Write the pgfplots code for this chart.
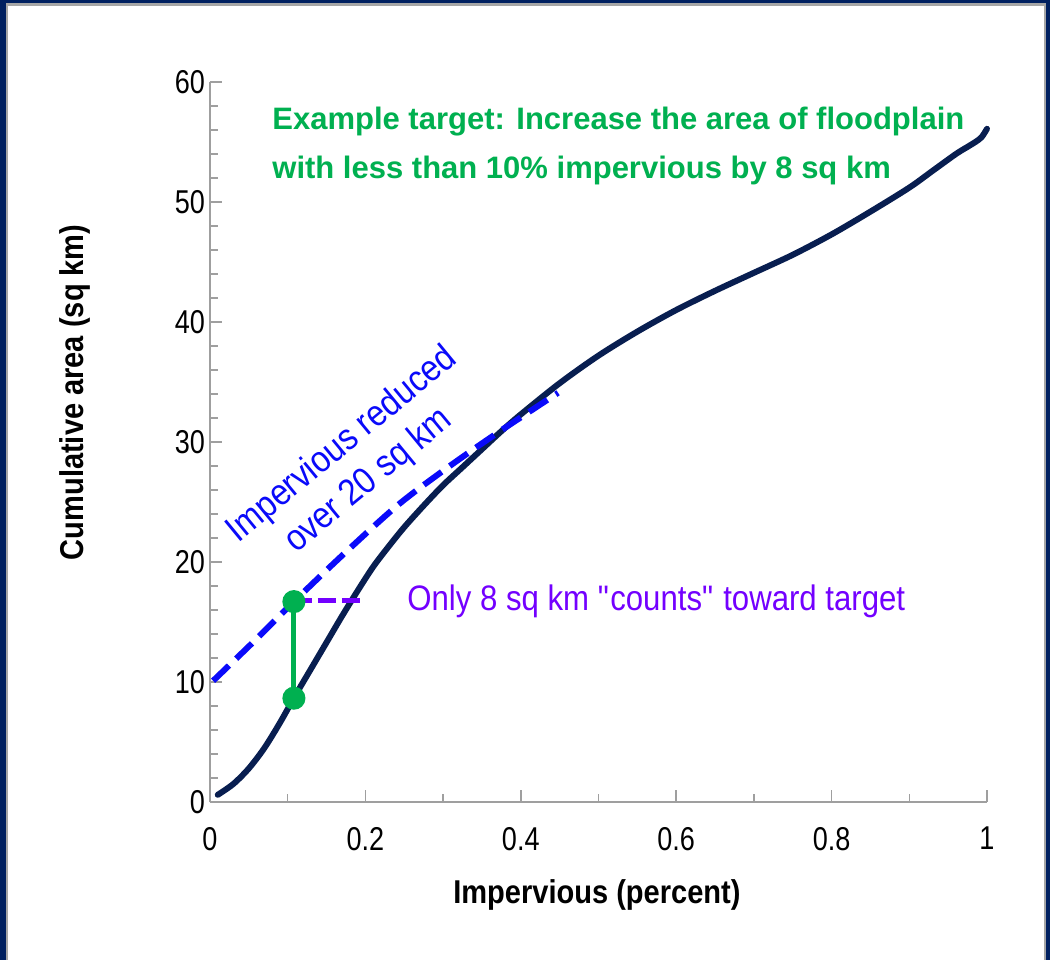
\documentclass[border=0pt]{standalone}
\usepackage{fontspec}
\setmainfont{Liberation Sans}[FakeStretch=0.88]
\newfontfamily\widefont{Liberation Sans}
\newfontfamily\narrowfont{Liberation Sans}[FakeStretch=0.82]
\newcommand\sq{\XeTeXglyph\XeTeXglyphindex "quotedbl" \relax}
\usepackage{pgfplots}
\pgfplotsset{compat=1.18}
\definecolor{framenavy}{RGB}{0,32,96}
\definecolor{curvenavy}{RGB}{8,30,80}
\definecolor{dashblue}{RGB}{10,10,250}
\definecolor{vio}{RGB}{115,0,255}
\definecolor{grn}{RGB}{0,176,80}
\begin{document}
\begin{tikzpicture}
\useasboundingbox (-105pt,-79pt) rectangle (420pt,401pt);
\fill[framenavy] (-105pt,-79pt) rectangle (420pt,401pt);
\fill[gray!70] (-102pt,-79pt) rectangle (418pt,399.5pt);
\fill[white] (-101pt,-79pt) rectangle (417pt,398pt);
\begin{axis}[
  width=388.5pt, height=360pt, scale only axis,
  xmin=0, xmax=1, ymin=0, ymax=60,
  axis x line*=bottom, axis y line*=left,
  tick pos=left,
  axis line style={draw=gray!75, line width=1pt, -},
  xtick={0,0.2,0.4,0.6,0.8,1},
  xticklabels={0,0.2,0.4,0.6,0.8,1},
  ytick={0,10,20,30,40,50,60},
  minor x tick num=1, minor y tick num=4,
  tick align=inside, major tick length=6pt, minor tick length=4pt,
  tick style={draw=gray!75, line width=0.75pt},
  /pgf/number format/assume math mode=true,
  ticklabel style={font=\narrowfont\fontsize{16.5}{20}\selectfont},
  xticklabel style={yshift=-9pt},
  yticklabel style={xshift=1pt},
  xlabel={Impervious (percent)},
  ylabel={Cumulative area (sq km)},
  label style={font=\bfseries\fontsize{16.5}{19}\selectfont},
  xlabel style={at={(axis description cs:0.498,-0.129)}, anchor=center},
  ylabel style={at={(axis description cs:-0.1737,0.569)}, anchor=center},
  clip=false,
]
\addplot[curvenavy, line width=3pt, smooth, line cap=round] coordinates {
(0.01,0.6) (0.03,1.5) (0.05,2.8) (0.07,4.5) (0.09,6.6) (0.11,8.9)
(0.13,11.1) (0.15,13.3) (0.17,15.5) (0.19,17.6) (0.21,19.6) (0.23,21.3)
(0.25,22.9) (0.275,24.7) (0.3,26.4) (0.325,27.9) (0.35,29.4) (0.375,30.9)
(0.4,32.3) (0.45,34.9) (0.5,37.2) (0.55,39.2) (0.6,41.0) (0.65,42.6)
(0.7,44.1) (0.75,45.6) (0.8,47.3) (0.85,49.2) (0.9,51.2) (0.93,52.6)
(0.96,54.0) (0.975,54.6) (0.985,55.0) (0.993,55.4) (1.0,56.1)
};
\addplot[dashblue, line width=3pt, smooth, dash pattern=on 11pt off 5pt] coordinates {
(0.004,10.1) (0.06,13.6) (0.108,16.7) (0.171,20.6) (0.241,24.7) (0.3,27.6) (0.364,30.5) (0.448,34.1)
};
\addplot[vio, line width=2.5pt, dash pattern=on 9pt off 3pt] coordinates {(0.108,16.8) (0.2,16.8)};
\addplot[grn, line width=2.5pt, mark=*, mark size=4.5pt, mark options={fill=grn, draw=grn, solid}] coordinates {(0.108,8.65) (0.108,16.7)};
\node[anchor=base west, text=grn, font=\widefont\bfseries\fontsize{15.5}{18}\selectfont, inner sep=0pt] at (axis cs:0.0798,56.08) {Example target: Increase the area of floodplain};
\node[anchor=base west, text=grn, font=\widefont\bfseries\fontsize{15.5}{18}\selectfont, inner sep=0pt] at (axis cs:0.0798,52.0) {with less than 10\% impervious by 8 sq km};
\node[anchor=base west, text=vio, font=\fontsize{17.7}{21}\selectfont, inner sep=0pt] at (axis cs:0.2535,15.92) {Only 8 sq km \sq counts\sq{} toward target};
\node[anchor=base, rotate=39.5, text=dashblue, font=\fontsize{18.5}{21}\selectfont, inner sep=0pt] at (axis cs:0.1782,29.125) {Impervious reduced};
\node[anchor=base, rotate=39.5, text=dashblue, font=\fontsize{18.5}{21}\selectfont, inner sep=0pt] at (axis cs:0.2124,26.125) {over 20 sq km};
\end{axis}
\end{tikzpicture}
\end{document}
